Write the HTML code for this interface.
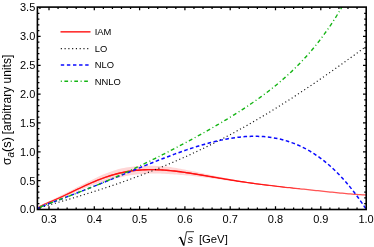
<!DOCTYPE html>
<html><head><meta charset="utf-8"><title>plot</title>
<style>html,body{margin:0;padding:0;background:#fff;}svg{display:block;}</style></head>
<body>
<svg width="374" height="247" viewBox="0 0 374 247" style="will-change:transform">
<rect width="374" height="247" fill="#fff"/>
<defs><clipPath id="c"><rect x="37.4" y="7.1" width="328.8" height="202.4"/></clipPath></defs>
<g clip-path="url(#c)" fill="none">
<path d="M37.2,209.2 L37.6,208.4 L38.0,207.7 L38.4,207.2 L38.8,206.8 L39.3,206.5 L39.7,206.2 L40.1,205.9 L40.5,205.6 L40.9,205.4 L41.3,205.1 L41.7,204.9 L42.1,204.7 L42.5,204.5 L42.9,204.2 L43.4,204.0 L43.8,203.8 L44.2,203.6 L44.6,203.4 L45.0,203.2 L45.2,203.1 L47.2,202.1 L49.2,201.2 L51.3,200.2 L53.3,199.3 L55.3,198.3 L57.3,197.3 L59.3,196.3 L61.4,195.3 L63.4,194.3 L65.4,193.3 L67.4,192.3 L69.4,191.2 L71.5,190.2 L73.5,189.2 L75.5,188.1 L77.5,187.1 L79.6,186.1 L81.6,185.0 L83.6,184.0 L85.6,183.0 L87.6,182.0 L89.7,180.9 L91.7,179.9 L93.7,178.9 L95.7,177.9 L97.7,176.9 L99.8,175.9 L101.8,175.0 L103.8,174.2 L105.8,173.4 L107.8,172.7 L109.9,171.9 L111.9,171.2 L113.9,170.6 L115.9,169.9 L117.9,169.3 L120.0,168.8 L122.0,168.3 L124.0,168.0 L126.0,167.6 L128.1,167.3 L130.1,167.0 L132.1,166.7 L134.1,166.5 L136.1,166.3 L138.2,166.1 L140.2,166.0 L142.2,165.9 L144.2,165.8 L146.2,165.7 L148.3,165.7 L150.3,165.7 L152.3,165.7 L154.3,165.8 L156.3,165.9 L158.4,166.0 L160.4,166.1 L162.4,166.3 L164.4,166.4 L166.4,166.6 L168.5,166.8 L170.5,167.1 L172.5,167.4 L174.5,167.7 L176.5,168.1 L178.6,168.4 L180.6,168.8 L182.6,169.2 L184.6,169.5 L186.7,170.0 L188.7,170.4 L190.7,170.8 L192.7,171.2 L194.7,171.6 L196.8,172.0 L198.8,172.5 L200.8,172.9 L202.8,173.3 L204.8,173.8 L206.9,174.2 L208.9,174.6 L210.9,175.1 L212.9,175.5 L214.9,175.9 L217.0,176.3 L219.0,176.7 L221.0,177.2 L223.0,177.6 L225.0,178.0 L227.1,178.4 L229.1,178.8 L231.1,179.2 L233.1,179.6 L235.2,179.9 L237.2,180.3 L239.2,180.7 L241.2,181.0 L243.2,181.4 L245.3,181.7 L247.3,182.0 L249.3,182.4 L251.3,182.7 L253.3,183.0 L255.4,183.4 L257.4,183.6 L259.4,183.9 L261.4,184.1 L263.4,184.4 L265.5,184.7 L267.5,184.9 L269.5,185.1 L271.5,185.4 L273.5,185.6 L275.6,185.9 L277.6,186.1 L279.6,186.3 L281.6,186.5 L283.6,186.8 L285.7,187.0 L287.7,187.2 L289.7,187.4 L291.7,187.6 L293.8,187.9 L295.8,188.1 L297.8,188.3 L299.8,188.5 L301.8,188.7 L303.9,188.9 L305.9,189.2 L307.9,189.4 L309.9,189.6 L311.9,189.8 L314.0,190.0 L316.0,190.2 L318.0,190.4 L320.0,190.7 L322.0,190.9 L324.1,191.1 L326.1,191.3 L328.1,191.5 L330.1,191.7 L332.1,191.9 L334.2,192.1 L336.2,192.3 L338.2,192.5 L340.2,192.7 L342.3,192.9 L344.3,193.1 L346.3,193.3 L348.3,193.5 L350.3,193.7 L352.4,193.8 L354.4,194.0 L356.4,194.2 L358.4,194.3 L360.4,194.4 L362.5,194.5 L364.5,194.6 L366.5,194.7 L366.5,195.3 L364.5,195.2 L362.5,195.1 L360.4,195.0 L358.4,194.9 L356.4,194.8 L354.4,194.6 L352.4,194.4 L350.3,194.3 L348.3,194.1 L346.3,193.9 L344.3,193.7 L342.3,193.5 L340.2,193.3 L338.2,193.1 L336.2,192.9 L334.2,192.7 L332.1,192.5 L330.1,192.3 L328.1,192.1 L326.1,191.9 L324.1,191.7 L322.0,191.5 L320.0,191.3 L318.0,191.0 L316.0,190.8 L314.0,190.6 L311.9,190.4 L309.9,190.2 L307.9,190.0 L305.9,189.8 L303.9,189.5 L301.8,189.3 L299.8,189.1 L297.8,188.9 L295.8,188.7 L293.8,188.5 L291.7,188.2 L289.7,188.0 L287.7,187.8 L285.7,187.6 L283.6,187.4 L281.6,187.1 L279.6,186.9 L277.6,186.7 L275.6,186.5 L273.5,186.2 L271.5,186.0 L269.5,185.7 L267.5,185.5 L265.5,185.3 L263.4,185.0 L261.4,184.7 L259.4,184.5 L257.4,184.2 L255.4,184.0 L253.3,183.7 L251.3,183.5 L249.3,183.3 L247.3,183.0 L245.3,182.8 L243.2,182.5 L241.2,182.3 L239.2,182.0 L237.2,181.7 L235.2,181.5 L233.1,181.2 L231.1,181.0 L229.1,180.7 L227.1,180.4 L225.0,180.2 L223.0,179.9 L221.0,179.6 L219.0,179.3 L217.0,179.1 L214.9,178.8 L212.9,178.5 L210.9,178.3 L208.9,178.0 L206.9,177.7 L204.8,177.5 L202.8,177.2 L200.8,177.0 L198.8,176.7 L196.8,176.5 L194.7,176.3 L192.7,176.0 L190.7,175.8 L188.7,175.6 L186.7,175.4 L184.6,175.2 L182.6,175.0 L180.6,174.9 L178.6,174.7 L176.5,174.6 L174.5,174.4 L172.5,174.3 L170.5,174.2 L168.5,174.1 L166.4,173.9 L164.4,173.8 L162.4,173.7 L160.4,173.6 L158.4,173.6 L156.3,173.5 L154.3,173.5 L152.3,173.5 L150.3,173.5 L148.3,173.6 L146.2,173.7 L144.2,173.8 L142.2,173.9 L140.2,174.1 L138.2,174.2 L136.1,174.5 L134.1,174.7 L132.1,175.0 L130.1,175.3 L128.1,175.7 L126.0,176.0 L124.0,176.5 L122.0,176.9 L120.0,177.4 L117.9,177.8 L115.9,178.2 L113.9,178.7 L111.9,179.2 L109.9,179.7 L107.8,180.3 L105.8,180.9 L103.8,181.5 L101.8,182.2 L99.8,182.8 L97.7,183.5 L95.7,184.1 L93.7,184.8 L91.7,185.5 L89.7,186.3 L87.6,187.0 L85.6,187.8 L83.6,188.7 L81.6,189.6 L79.6,190.5 L77.5,191.4 L75.5,192.3 L73.5,193.2 L71.5,194.1 L69.4,195.0 L67.4,195.9 L65.4,196.8 L63.4,197.7 L61.4,198.6 L59.3,199.4 L57.3,200.2 L55.3,200.9 L53.3,201.7 L51.3,202.4 L49.2,203.1 L47.2,203.9 L45.2,204.6 L45.0,204.7 L44.6,204.8 L44.2,205.0 L43.8,205.1 L43.4,205.3 L42.9,205.5 L42.5,205.6 L42.1,205.8 L41.7,206.0 L41.3,206.2 L40.9,206.4 L40.5,206.6 L40.1,206.8 L39.7,207.0 L39.3,207.3 L38.8,207.6 L38.4,207.9 L38.0,208.4 L37.6,209.0 L37.2,209.8Z" fill="#ffd6d6" stroke="none"/>
<path d="M37.20,209.50 L37.61,208.72 L38.02,208.04 L38.43,207.58 L38.84,207.21 L39.25,206.90 L39.66,206.61 L40.07,206.35 L40.48,206.10 L40.89,205.87 L41.31,205.65 L41.72,205.44 L42.13,205.24 L42.54,205.04 L42.95,204.85 L43.36,204.66 L43.77,204.47 L44.18,204.29 L44.59,204.11 L45.00,203.93 L45.20,203.85 L47.22,203.00 L49.24,202.16 L51.26,201.33 L53.28,200.48 L55.30,199.61 L57.32,198.73 L59.35,197.83 L61.37,196.92 L63.39,195.99 L65.41,195.04 L67.43,194.09 L69.45,193.12 L71.47,192.15 L73.49,191.18 L75.51,190.20 L77.53,189.23 L79.55,188.26 L81.57,187.30 L83.59,186.35 L85.62,185.41 L87.64,184.49 L89.66,183.59 L91.68,182.70 L93.70,181.83 L95.72,180.99 L97.74,180.17 L99.76,179.38 L101.78,178.61 L103.80,177.87 L105.82,177.16 L107.84,176.48 L109.86,175.84 L111.88,175.22 L113.91,174.63 L115.93,174.08 L117.95,173.56 L119.97,173.08 L121.99,172.62 L124.01,172.20 L126.03,171.82 L128.05,171.46 L130.07,171.14 L132.09,170.85 L134.11,170.60 L136.13,170.37 L138.15,170.17 L140.18,170.01 L142.20,169.87 L144.22,169.77 L146.24,169.69 L148.26,169.64 L150.28,169.62 L152.30,169.62 L154.32,169.64 L156.34,169.70 L158.36,169.77 L160.38,169.86 L162.40,169.98 L164.42,170.12 L166.45,170.27 L168.47,170.45 L170.49,170.64 L172.51,170.85 L174.53,171.07 L176.55,171.31 L178.57,171.56 L180.59,171.82 L182.61,172.10 L184.63,172.38 L186.65,172.68 L188.67,172.98 L190.69,173.29 L192.72,173.61 L194.74,173.94 L196.76,174.27 L198.78,174.60 L200.80,174.94 L202.82,175.28 L204.84,175.62 L206.86,175.97 L208.88,176.32 L210.90,176.66 L212.92,177.01 L214.94,177.36 L216.96,177.70 L218.98,178.05 L221.01,178.39 L223.03,178.73 L225.05,179.07 L227.07,179.40 L229.09,179.73 L231.11,180.06 L233.13,180.38 L235.15,180.70 L237.17,181.02 L239.19,181.33 L241.21,181.64 L243.23,181.94 L245.25,182.24 L247.28,182.53 L249.30,182.82 L251.32,183.10 L253.34,183.38 L255.36,183.65 L257.38,183.92 L259.40,184.18 L261.42,184.44 L263.44,184.70 L265.46,184.95 L267.48,185.20 L269.50,185.44 L271.52,185.69 L273.55,185.92 L275.57,186.16 L277.59,186.39 L279.61,186.62 L281.63,186.85 L283.65,187.07 L285.67,187.29 L287.69,187.51 L289.71,187.73 L291.73,187.95 L293.75,188.17 L295.77,188.38 L297.79,188.60 L299.82,188.81 L301.84,189.03 L303.86,189.24 L305.88,189.45 L307.90,189.67 L309.92,189.88 L311.94,190.09 L313.96,190.31 L315.98,190.52 L318.00,190.74 L320.02,190.95 L322.04,191.16 L324.06,191.38 L326.08,191.59 L328.11,191.80 L330.13,192.01 L332.15,192.22 L334.17,192.43 L336.19,192.64 L338.21,192.84 L340.23,193.04 L342.25,193.24 L344.27,193.43 L346.29,193.62 L348.31,193.80 L350.33,193.98 L352.35,194.15 L354.38,194.31 L356.40,194.46 L358.42,194.60 L360.44,194.73 L362.46,194.84 L364.48,194.95 L366.50,195.03" stroke="#ff5555" stroke-width="1.25"/>
<path d="M37.2,209.50 L37.6,208.72 L38.0,208.03 L38.4,207.56 L38.8,207.18 L39.3,206.85 L39.7,206.55 L40.1,206.28 L40.5,206.02 L40.9,205.78 L41.3,205.55 L41.7,205.32 L42.1,205.11 L42.5,204.90 L42.9,204.69 L43.4,204.49 L43.8,204.30 L44.2,204.10 L44.6,203.91 L45.0,203.72 L45.2,203.63 L47.2,202.72 L49.2,201.85 L51.3,200.99 L53.3,200.11 L55.3,199.23 L57.3,198.32 L59.3,197.40 L61.4,196.46 L63.4,195.50 L65.4,194.54 L67.4,193.56 L69.4,192.57 L71.5,191.57 L73.5,190.57 L75.5,189.58 L77.5,188.60 L79.6,187.63 L81.6,186.66 L83.6,185.71 L85.6,184.77 L87.6,183.84 L89.7,182.93 L91.7,182.03 L93.7,181.16 L95.7,180.31 L97.7,179.49 L99.8,178.69 L101.8,177.92 L103.8,177.18 L105.8,176.46 L107.8,175.78 L109.9,175.12 L111.9,174.50 L113.9,173.91 L115.9,173.35 L117.9,172.83 L120.0,172.34 L122.0,171.89 L124.0,171.47 L126.0,171.08 L128.1,170.73 L130.1,170.41 L132.1,170.12 L134.1,169.86 L136.1,169.64 L138.2,169.44 L140.2,169.28 L142.2,169.15 L144.2,169.04 L146.2,168.96 L148.3,168.91 L150.3,168.89 L152.3,168.89 L154.3,168.92 L156.3,168.97 L158.4,169.05 L160.4,169.15 L162.4,169.26 L164.4,169.40 L166.4,169.56 L168.5,169.73 L170.5,169.93 L172.5,170.14 L174.5,170.36 L176.5,170.60 L178.6,170.85 L180.6,171.11 L182.6,171.39 L184.6,171.68 L186.7,171.97 L188.7,172.28 L190.7,172.59 L192.7,172.91 L194.7,173.23 L196.8,173.56 L198.8,173.90 L200.8,174.24 L202.8,174.59 L204.8,174.94 L206.9,175.29 L208.9,175.64 L210.9,175.99 L212.9,176.34 L214.9,176.69 L217.0,177.05 L219.0,177.40 L221.0,177.74 L223.0,178.09 L225.0,178.43 L227.1,178.77 L229.1,179.11 L231.1,179.44 L233.1,179.77 L235.2,180.09 L237.2,180.41 L239.2,180.73 L241.2,181.04 L243.2,181.36 L245.3,181.67 L247.3,181.97 L249.3,182.27 L251.3,182.57 L253.3,182.86 L255.4,183.14 L257.4,183.42 L259.4,183.70 L261.4,183.97 L263.4,184.24 L265.5,184.50 L267.5,184.77 L269.5,185.02 L271.5,185.28 L273.5,185.53 L275.6,185.78 L277.6,186.03 L279.6,186.27 L281.6,186.51 L283.6,186.75 L285.7,186.99 L287.7,187.22 L289.7,187.46 L291.7,187.69 L293.8,187.92 L295.8,188.15 L297.8,188.38 L299.8,188.61 L299.8,189.01 L297.8,188.81 L295.8,188.61 L293.8,188.41 L291.7,188.21 L289.7,188.01 L287.7,187.80 L285.7,187.60 L283.6,187.39 L281.6,187.18 L279.6,186.97 L277.6,186.75 L275.6,186.54 L273.5,186.32 L271.5,186.09 L269.5,185.87 L267.5,185.64 L265.5,185.40 L263.4,185.16 L261.4,184.92 L259.4,184.67 L257.4,184.41 L255.4,184.16 L253.3,183.90 L251.3,183.63 L249.3,183.36 L247.3,183.08 L245.3,182.80 L243.2,182.52 L241.2,182.23 L239.2,181.93 L237.2,181.63 L235.2,181.32 L233.1,181.00 L231.1,180.68 L229.1,180.36 L227.1,180.03 L225.0,179.71 L223.0,179.37 L221.0,179.04 L219.0,178.70 L217.0,178.36 L214.9,178.02 L212.9,177.68 L210.9,177.34 L208.9,176.99 L206.9,176.65 L204.8,176.31 L202.8,175.97 L200.8,175.64 L198.8,175.30 L196.8,174.97 L194.7,174.64 L192.7,174.31 L190.7,174.00 L188.7,173.69 L186.7,173.38 L184.6,173.09 L182.6,172.81 L180.6,172.53 L178.6,172.27 L176.5,172.02 L174.5,171.78 L172.5,171.56 L170.5,171.36 L168.5,171.17 L166.4,170.99 L164.4,170.84 L162.4,170.70 L160.4,170.58 L158.4,170.49 L156.3,170.42 L154.3,170.37 L152.3,170.34 L150.3,170.34 L148.3,170.37 L146.2,170.42 L144.2,170.50 L142.2,170.60 L140.2,170.74 L138.2,170.91 L136.1,171.10 L134.1,171.33 L132.1,171.59 L130.1,171.88 L128.1,172.20 L126.0,172.55 L124.0,172.94 L122.0,173.36 L120.0,173.82 L117.9,174.30 L115.9,174.81 L113.9,175.36 L111.9,175.94 L109.9,176.55 L107.8,177.19 L105.8,177.87 L103.8,178.57 L101.8,179.30 L99.8,180.06 L97.7,180.85 L95.7,181.67 L93.7,182.50 L91.7,183.36 L89.7,184.24 L87.6,185.15 L85.6,186.06 L83.6,186.99 L81.6,187.94 L79.6,188.89 L77.5,189.86 L75.5,190.82 L73.5,191.78 L71.5,192.73 L69.4,193.67 L67.4,194.62 L65.4,195.55 L63.4,196.47 L61.4,197.38 L59.3,198.27 L57.3,199.14 L55.3,200.00 L53.3,200.84 L51.3,201.66 L49.2,202.48 L47.2,203.28 L45.2,204.07 L45.0,204.15 L44.6,204.31 L44.2,204.48 L43.8,204.65 L43.4,204.82 L42.9,205.00 L42.5,205.18 L42.1,205.37 L41.7,205.56 L41.3,205.76 L40.9,205.97 L40.5,206.18 L40.1,206.42 L39.7,206.67 L39.3,206.94 L38.8,207.25 L38.4,207.60 L38.0,208.05 L37.6,208.72 L37.2,209.50Z" fill="#ff1010" stroke="none"/>
<path d="M37.20,209.50 L37.61,209.10 L38.02,208.74 L38.43,208.49 L38.84,208.28 L39.25,208.09 L39.66,207.92 L40.07,207.76 L40.48,207.61 L40.89,207.46 L41.31,207.32 L41.72,207.18 L42.13,207.05 L42.54,206.92 L42.95,206.79 L43.36,206.66 L43.77,206.53 L44.18,206.41 L44.59,206.28 L45.00,206.16 L45.20,206.10 L47.22,205.50 L49.24,204.92 L51.26,204.34 L53.28,203.76 L55.30,203.19 L57.32,202.61 L59.35,202.03 L61.37,201.44 L63.39,200.86 L65.41,200.27 L67.43,199.68 L69.45,199.08 L71.47,198.48 L73.49,197.88 L75.51,197.27 L77.53,196.66 L79.55,196.05 L81.57,195.43 L83.59,194.81 L85.62,194.18 L87.64,193.55 L89.66,192.92 L91.68,192.28 L93.70,191.64 L95.72,190.99 L97.74,190.34 L99.76,189.69 L101.78,189.03 L103.80,188.36 L105.82,187.69 L107.84,187.02 L109.86,186.34 L111.88,185.66 L113.91,184.97 L115.93,184.27 L117.95,183.57 L119.97,182.87 L121.99,182.16 L124.01,181.44 L126.03,180.72 L128.05,180.00 L130.07,179.27 L132.09,178.53 L134.11,177.79 L136.13,177.04 L138.15,176.28 L140.18,175.52 L142.20,174.75 L144.22,173.98 L146.24,173.20 L148.26,172.41 L150.28,171.62 L152.30,170.82 L154.32,170.02 L156.34,169.21 L158.36,168.39 L160.38,167.56 L162.40,166.73 L164.42,165.89 L166.45,165.05 L168.47,164.20 L170.49,163.34 L172.51,162.47 L174.53,161.60 L176.55,160.72 L178.57,159.83 L180.59,158.94 L182.61,158.04 L184.63,157.13 L186.65,156.21 L188.67,155.29 L190.69,154.36 L192.72,153.42 L194.74,152.47 L196.76,151.52 L198.78,150.56 L200.80,149.59 L202.82,148.61 L204.84,147.63 L206.86,146.64 L208.88,145.64 L210.90,144.63 L212.92,143.62 L214.94,142.60 L216.96,141.57 L218.98,140.53 L221.01,139.49 L223.03,138.44 L225.05,137.38 L227.07,136.31 L229.09,135.23 L231.11,134.15 L233.13,133.06 L235.15,131.96 L237.17,130.86 L239.19,129.74 L241.21,128.62 L243.23,127.50 L245.25,126.36 L247.28,125.22 L249.30,124.06 L251.32,122.91 L253.34,121.74 L255.36,120.57 L257.38,119.38 L259.40,118.20 L261.42,117.00 L263.44,115.80 L265.46,114.59 L267.48,113.37 L269.50,112.14 L271.52,110.91 L273.55,109.67 L275.57,108.42 L277.59,107.17 L279.61,105.91 L281.63,104.64 L283.65,103.37 L285.67,102.09 L287.69,100.80 L289.71,99.50 L291.73,98.20 L293.75,96.89 L295.77,95.58 L297.79,94.26 L299.82,92.93 L301.84,91.60 L303.86,90.26 L305.88,88.91 L307.90,87.56 L309.92,86.20 L311.94,84.84 L313.96,83.47 L315.98,82.09 L318.00,80.71 L320.02,79.33 L322.04,77.93 L324.06,76.54 L326.08,75.13 L328.11,73.73 L330.13,72.31 L332.15,70.89 L334.17,69.47 L336.19,68.04 L338.21,66.61 L340.23,65.18 L342.25,63.73 L344.27,62.29 L346.29,60.84 L348.31,59.39 L350.33,57.93 L352.35,56.47 L354.38,55.00 L356.40,53.53 L358.42,52.06 L360.44,50.58 L362.46,49.10 L364.48,47.62 L366.50,46.14" stroke="#111" stroke-width="1.15" stroke-dasharray="1.1 2.67"/>
<path d="M37.20,209.50 L37.61,208.99 L38.02,208.53 L38.43,208.21 L38.84,207.95 L39.25,207.71 L39.66,207.49 L40.07,207.28 L40.48,207.09 L40.89,206.90 L41.31,206.71 L41.72,206.53 L42.13,206.36 L42.54,206.18 L42.95,206.01 L43.36,205.85 L43.77,205.68 L44.18,205.52 L44.59,205.35 L45.00,205.19 L45.20,205.11 L47.22,204.33 L49.24,203.56 L51.26,202.79 L53.28,202.03 L55.30,201.27 L57.32,200.51 L59.35,199.74 L61.37,198.98 L63.39,198.21 L65.41,197.44 L67.43,196.67 L69.45,195.89 L71.47,195.11 L73.49,194.33 L75.51,193.55 L77.53,192.76 L79.55,191.98 L81.57,191.19 L83.59,190.39 L85.62,189.60 L87.64,188.80 L89.66,188.00 L91.68,187.20 L93.70,186.40 L95.72,185.59 L97.74,184.79 L99.76,183.98 L101.78,183.17 L103.80,182.35 L105.82,181.54 L107.84,180.72 L109.86,179.91 L111.88,179.09 L113.91,178.27 L115.93,177.45 L117.95,176.62 L119.97,175.80 L121.99,174.98 L124.01,174.16 L126.03,173.33 L128.05,172.51 L130.07,171.69 L132.09,170.86 L134.11,170.04 L136.13,169.22 L138.15,168.40 L140.18,167.58 L142.20,166.76 L144.22,165.95 L146.24,165.14 L148.26,164.33 L150.28,163.52 L152.30,162.71 L154.32,161.91 L156.34,161.12 L158.36,160.32 L160.38,159.53 L162.40,158.75 L164.42,157.97 L166.45,157.20 L168.47,156.43 L170.49,155.67 L172.51,154.92 L174.53,154.17 L176.55,153.43 L178.57,152.70 L180.59,151.98 L182.61,151.26 L184.63,150.56 L186.65,149.87 L188.67,149.18 L190.69,148.51 L192.72,147.85 L194.74,147.20 L196.76,146.57 L198.78,145.95 L200.80,145.34 L202.82,144.74 L204.84,144.16 L206.86,143.60 L208.88,143.05 L210.90,142.52 L212.92,142.00 L214.94,141.50 L216.96,141.02 L218.98,140.56 L221.01,140.12 L223.03,139.70 L225.05,139.30 L227.07,138.93 L229.09,138.57 L231.11,138.24 L233.13,137.93 L235.15,137.65 L237.17,137.39 L239.19,137.15 L241.21,136.95 L243.23,136.77 L245.25,136.61 L247.28,136.49 L249.30,136.40 L251.32,136.33 L253.34,136.30 L255.36,136.30 L257.38,136.33 L259.40,136.39 L261.42,136.49 L263.44,136.62 L265.46,136.79 L267.48,136.99 L269.50,137.24 L271.52,137.52 L273.55,137.83 L275.57,138.19 L277.59,138.59 L279.61,139.03 L281.63,139.51 L283.65,140.04 L285.67,140.61 L287.69,141.22 L289.71,141.88 L291.73,142.59 L293.75,143.34 L295.77,144.14 L297.79,144.99 L299.82,145.89 L301.84,146.85 L303.86,147.85 L305.88,148.91 L307.90,150.02 L309.92,151.18 L311.94,152.40 L313.96,153.68 L315.98,155.01 L318.00,156.40 L320.02,157.85 L322.04,159.36 L324.06,160.94 L326.08,162.57 L328.11,164.27 L330.13,166.03 L332.15,167.86 L334.17,169.75 L336.19,171.71 L338.21,173.74 L340.23,175.84 L342.25,178.00 L344.27,180.24 L346.29,182.55 L348.31,184.93 L350.33,187.39 L352.35,189.92 L354.38,192.52 L356.40,195.21 L358.42,197.97 L360.44,200.81 L362.46,203.73 L364.48,206.73 L366.50,209.81" stroke="#0a0aff" stroke-width="1.5" stroke-dasharray="3.6 2.5"/>
<path d="M37.20,209.50 L37.61,208.97 L38.02,208.49 L38.43,208.16 L38.84,207.88 L39.25,207.64 L39.66,207.41 L40.07,207.20 L40.48,207.00 L40.89,206.80 L41.31,206.62 L41.72,206.44 L42.13,206.26 L42.54,206.08 L42.95,205.91 L43.36,205.75 L43.77,205.58 L44.18,205.41 L44.59,205.25 L45.00,205.09 L45.20,205.01 L47.09,204.28 L48.98,203.57 L50.88,202.86 L52.77,202.16 L54.66,201.46 L56.55,200.77 L58.44,200.07 L60.33,199.37 L62.23,198.66 L64.12,197.96 L66.01,197.25 L67.90,196.54 L69.79,195.82 L71.69,195.11 L73.58,194.38 L75.47,193.66 L77.36,192.93 L79.25,192.19 L81.14,191.45 L83.04,190.71 L84.93,189.96 L86.82,189.20 L88.71,188.45 L90.60,187.68 L92.50,186.91 L94.39,186.14 L96.28,185.36 L98.17,184.57 L100.06,183.78 L101.95,182.99 L103.85,182.19 L105.74,181.38 L107.63,180.57 L109.52,179.75 L111.41,178.93 L113.31,178.10 L115.20,177.27 L117.09,176.43 L118.98,175.58 L120.87,174.73 L122.76,173.88 L124.66,173.02 L126.55,172.15 L128.44,171.28 L130.33,170.40 L132.22,169.52 L134.12,168.63 L136.01,167.74 L137.90,166.84 L139.79,165.94 L141.68,165.03 L143.57,164.12 L145.47,163.20 L147.36,162.28 L149.25,161.35 L151.14,160.42 L153.03,159.48 L154.93,158.54 L156.82,157.60 L158.71,156.65 L160.60,155.69 L162.49,154.73 L164.38,153.77 L166.28,152.80 L168.17,151.83 L170.06,150.85 L171.95,149.87 L173.84,148.88 L175.74,147.89 L177.63,146.90 L179.52,145.90 L181.41,144.90 L183.30,143.89 L185.19,142.88 L187.09,141.86 L188.98,140.84 L190.87,139.81 L192.76,138.78 L194.65,137.75 L196.55,136.71 L198.44,135.66 L200.33,134.61 L202.22,133.56 L204.11,132.50 L206.01,131.43 L207.90,130.36 L209.79,129.28 L211.68,128.20 L213.57,127.11 L215.46,126.01 L217.36,124.91 L219.25,123.80 L221.14,122.68 L223.03,121.55 L224.92,120.42 L226.82,119.28 L228.71,118.13 L230.60,116.97 L232.49,115.80 L234.38,114.63 L236.27,113.44 L238.17,112.24 L240.06,111.03 L241.95,109.81 L243.84,108.58 L245.73,107.33 L247.63,106.07 L249.52,104.80 L251.41,103.52 L253.30,102.21 L255.19,100.90 L257.08,99.57 L258.98,98.22 L260.87,96.85 L262.76,95.46 L264.65,94.06 L266.54,92.64 L268.44,91.19 L270.33,89.73 L272.22,88.24 L274.11,86.73 L276.00,85.19 L277.89,83.63 L279.79,82.04 L281.68,80.43 L283.57,78.78 L285.46,77.11 L287.35,75.41 L289.25,73.67 L291.14,71.91 L293.03,70.11 L294.92,68.27 L296.81,66.40 L298.70,64.49 L300.60,62.54 L302.49,60.55 L304.38,58.51 L306.27,56.44 L308.16,54.32 L310.06,52.15 L311.95,49.94 L313.84,47.67 L315.73,45.36 L317.62,42.99 L319.51,40.56 L321.41,38.09 L323.30,35.55 L325.19,32.95 L327.08,30.29 L328.97,27.57 L330.87,24.78 L332.76,21.92 L334.65,19.00 L336.54,16.00 L338.43,12.93 L340.32,9.78 L342.22,6.55 L344.11,3.24 L346.00,-0.15" stroke="#14b414" stroke-width="1.4" stroke-dasharray="1 2.6 3.9 2.7"/>
</g>
<path d="M39.94,209.5 v-2.0 M39.94,7.1 v2.0 M49.00,209.5 v-3.2 M49.00,7.1 v3.2 M58.06,209.5 v-2.0 M58.06,7.1 v2.0 M67.12,209.5 v-2.0 M67.12,7.1 v2.0 M76.18,209.5 v-2.0 M76.18,7.1 v2.0 M85.24,209.5 v-2.0 M85.24,7.1 v2.0 M94.30,209.5 v-3.2 M94.30,7.1 v3.2 M103.36,209.5 v-2.0 M103.36,7.1 v2.0 M112.42,209.5 v-2.0 M112.42,7.1 v2.0 M121.48,209.5 v-2.0 M121.48,7.1 v2.0 M130.54,209.5 v-2.0 M130.54,7.1 v2.0 M139.60,209.5 v-3.2 M139.60,7.1 v3.2 M148.66,209.5 v-2.0 M148.66,7.1 v2.0 M157.72,209.5 v-2.0 M157.72,7.1 v2.0 M166.78,209.5 v-2.0 M166.78,7.1 v2.0 M175.84,209.5 v-2.0 M175.84,7.1 v2.0 M184.90,209.5 v-3.2 M184.90,7.1 v3.2 M193.96,209.5 v-2.0 M193.96,7.1 v2.0 M203.02,209.5 v-2.0 M203.02,7.1 v2.0 M212.08,209.5 v-2.0 M212.08,7.1 v2.0 M221.14,209.5 v-2.0 M221.14,7.1 v2.0 M230.20,209.5 v-3.2 M230.20,7.1 v3.2 M239.26,209.5 v-2.0 M239.26,7.1 v2.0 M248.32,209.5 v-2.0 M248.32,7.1 v2.0 M257.38,209.5 v-2.0 M257.38,7.1 v2.0 M266.44,209.5 v-2.0 M266.44,7.1 v2.0 M275.50,209.5 v-3.2 M275.50,7.1 v3.2 M284.56,209.5 v-2.0 M284.56,7.1 v2.0 M293.62,209.5 v-2.0 M293.62,7.1 v2.0 M302.68,209.5 v-2.0 M302.68,7.1 v2.0 M311.74,209.5 v-2.0 M311.74,7.1 v2.0 M320.80,209.5 v-3.2 M320.80,7.1 v3.2 M329.86,209.5 v-2.0 M329.86,7.1 v2.0 M338.92,209.5 v-2.0 M338.92,7.1 v2.0 M347.98,209.5 v-2.0 M347.98,7.1 v2.0 M357.04,209.5 v-2.0 M357.04,7.1 v2.0 M37.4,203.73 h2.0 M366.2,203.73 h-2.0 M37.4,197.96 h2.0 M366.2,197.96 h-2.0 M37.4,192.19 h2.0 M366.2,192.19 h-2.0 M37.4,186.42 h2.0 M366.2,186.42 h-2.0 M37.4,180.65 h3.2 M366.2,180.65 h-3.2 M37.4,174.88 h2.0 M366.2,174.88 h-2.0 M37.4,169.11 h2.0 M366.2,169.11 h-2.0 M37.4,163.34 h2.0 M366.2,163.34 h-2.0 M37.4,157.57 h2.0 M366.2,157.57 h-2.0 M37.4,151.80 h3.2 M366.2,151.80 h-3.2 M37.4,146.03 h2.0 M366.2,146.03 h-2.0 M37.4,140.26 h2.0 M366.2,140.26 h-2.0 M37.4,134.49 h2.0 M366.2,134.49 h-2.0 M37.4,128.72 h2.0 M366.2,128.72 h-2.0 M37.4,122.95 h3.2 M366.2,122.95 h-3.2 M37.4,117.18 h2.0 M366.2,117.18 h-2.0 M37.4,111.41 h2.0 M366.2,111.41 h-2.0 M37.4,105.64 h2.0 M366.2,105.64 h-2.0 M37.4,99.87 h2.0 M366.2,99.87 h-2.0 M37.4,94.10 h3.2 M366.2,94.10 h-3.2 M37.4,88.33 h2.0 M366.2,88.33 h-2.0 M37.4,82.56 h2.0 M366.2,82.56 h-2.0 M37.4,76.79 h2.0 M366.2,76.79 h-2.0 M37.4,71.02 h2.0 M366.2,71.02 h-2.0 M37.4,65.25 h3.2 M366.2,65.25 h-3.2 M37.4,59.48 h2.0 M366.2,59.48 h-2.0 M37.4,53.71 h2.0 M366.2,53.71 h-2.0 M37.4,47.94 h2.0 M366.2,47.94 h-2.0 M37.4,42.17 h2.0 M366.2,42.17 h-2.0 M37.4,36.40 h3.2 M366.2,36.40 h-3.2 M37.4,30.63 h2.0 M366.2,30.63 h-2.0 M37.4,24.86 h2.0 M366.2,24.86 h-2.0 M37.4,19.09 h2.0 M366.2,19.09 h-2.0 M37.4,13.32 h2.0 M366.2,13.32 h-2.0" stroke="#000" stroke-width="1.25" fill="none"/>
<rect x="37.4" y="7.1" width="328.8" height="202.4" fill="none" stroke="#000" stroke-width="1.6"/>
<g font-family="Liberation Sans, sans-serif" font-size="11.0" fill="#000">
<text x="49.00" y="223.1" text-anchor="middle">0.3</text>
<text x="94.30" y="223.1" text-anchor="middle">0.4</text>
<text x="139.60" y="223.1" text-anchor="middle">0.5</text>
<text x="184.90" y="223.1" text-anchor="middle">0.6</text>
<text x="230.20" y="223.1" text-anchor="middle">0.7</text>
<text x="275.50" y="223.1" text-anchor="middle">0.8</text>
<text x="320.80" y="223.1" text-anchor="middle">0.9</text>
<text x="366.10" y="223.1" text-anchor="middle">1.0</text>
<text x="35.3" y="213.40" text-anchor="end">0.0</text>
<text x="35.3" y="184.55" text-anchor="end">0.5</text>
<text x="35.3" y="155.70" text-anchor="end">1.0</text>
<text x="35.3" y="126.85" text-anchor="end">1.5</text>
<text x="35.3" y="98.00" text-anchor="end">2.0</text>
<text x="35.3" y="69.15" text-anchor="end">2.5</text>
<text x="35.3" y="40.30" text-anchor="end">3.0</text>
<text x="35.3" y="11.45" text-anchor="end">3.5</text>
<text x="187.4" y="243.3" font-size="11.3" font-style="italic">s</text>
<text x="198.9" y="243.3" font-size="11.3">[GeV]</text>
<path d="M178.5,238.2 L180.3,237 L183.9,245.6 L186.5,231.7 H194" fill="none" stroke="#000" stroke-width="0.8" stroke-linejoin="miter"/>
<path d="M180.3,237.2 L183.7,245.2" fill="none" stroke="#000" stroke-width="1.5"/>
<text transform="translate(11.1,164.9) rotate(-90)" font-size="12.05">σ<tspan font-size="10" font-style="italic" dy="2.4">a</tspan><tspan dy="-2.4" font-size="12.7">(s)</tspan><tspan dx="-0.6"> [arbitrary units]</tspan></text>
</g>
<g fill="none">
<path d="M60.5,31.85 H90.5" stroke="#ff1010" stroke-width="1.4"/>
<path d="M60.8,48.6 H90.4" stroke="#111" stroke-width="1.15" stroke-dasharray="1.1 2.67"/>
<path d="M60.8,64.95 H90.4" stroke="#0a0aff" stroke-width="1.5" stroke-dasharray="3.4 2.7"/>
<path d="M60.8,81.2 H90.4" stroke="#14b414" stroke-width="1.35" stroke-dasharray="1 2.6 3.7 2.6"/>
</g>
<g font-family="Liberation Sans, sans-serif" font-size="9.4" fill="#000">
<text x="94.7" y="35.05">IAM</text>
<text x="94.7" y="51.95">LO</text>
<text x="94.7" y="68.30">NLO</text>
<text x="94.7" y="84.55">NNLO</text>
</g>
</svg>
</body></html>
